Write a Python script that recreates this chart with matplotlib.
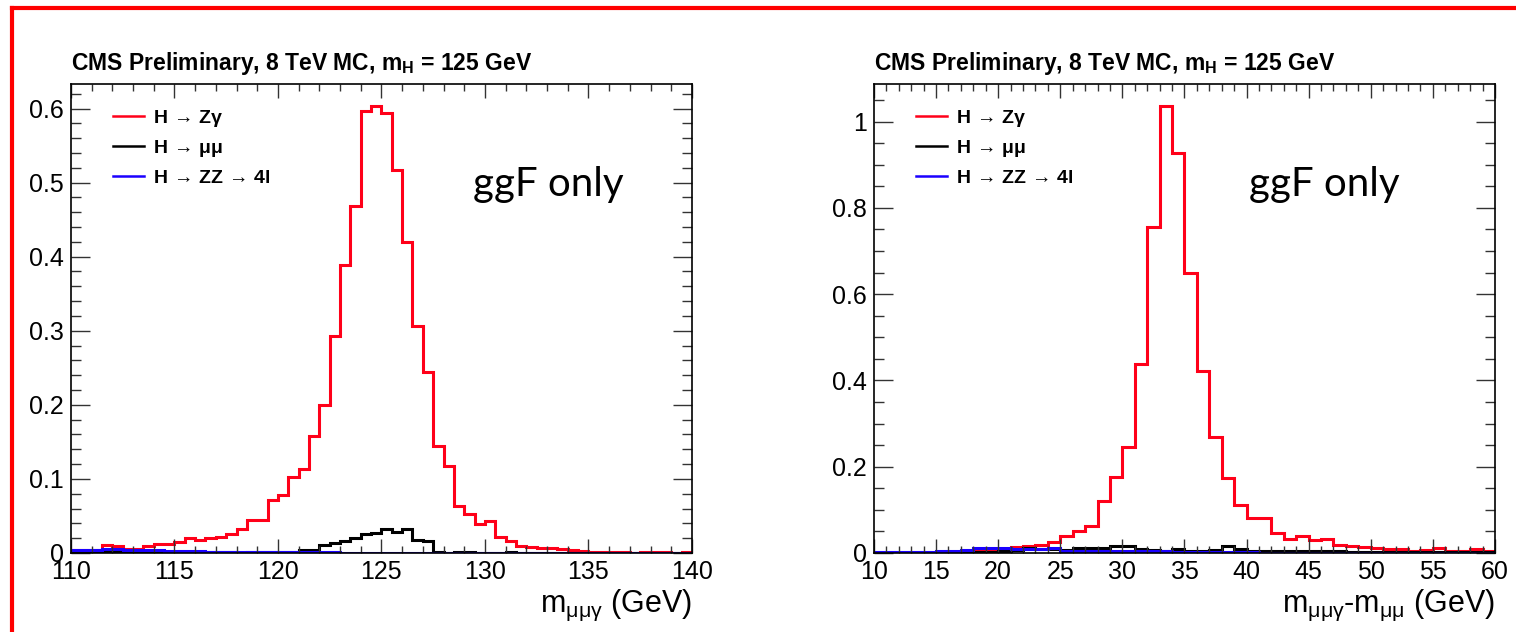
import numpy as np
import matplotlib.pyplot as plt
from matplotlib.lines import Line2D
from matplotlib.ticker import FixedLocator, MultipleLocator

plt.rcParams['font.family'] = ['Liberation Sans', 'DejaVu Sans']
plt.rcParams['mathtext.fontset'] = 'custom'
plt.rcParams['mathtext.rm'] = 'Liberation Sans'
plt.rcParams['mathtext.it'] = 'Liberation Sans:italic'
plt.rcParams['mathtext.bf'] = 'Liberation Sans:bold'

# ---- datos: m(mumugamma), bins de 0.5 GeV entre 110 y 140
m3_edges = np.arange(110, 140.01, 0.5)
m3_zg = [0.004, 0.004, 0.004, 0.011, 0.010, 0.006, 0.006, 0.009, 0.012, 0.012,
         0.015, 0.020, 0.018, 0.020, 0.022, 0.026, 0.033, 0.044, 0.044, 0.072,
         0.078, 0.102, 0.113, 0.158, 0.200, 0.293, 0.389, 0.468, 0.597, 0.603,
         0.594, 0.517, 0.420, 0.306, 0.244, 0.144, 0.117, 0.063, 0.053, 0.039,
         0.043, 0.022, 0.016, 0.010, 0.008, 0.007, 0.007, 0.006, 0.0045, 0.003,
         0.002, 0.002, 0.001, 0.001, 0.0, 0.001, 0.001, 0.001, 0.0005, 0.001]
m3_mm = [0.001, 0.001, 0.0005, 0.001, 0.001, 0.0005, 0.001, 0.001, 0.0005, 0.001,
         0.001, 0.001, 0.0005, 0.001, 0.001, 0.001, 0.0005, 0.001, 0.001, 0.002,
         0.001, 0.002, 0.0045, 0.0045, 0.011, 0.013, 0.016, 0.020, 0.026, 0.027,
         0.032, 0.028, 0.033, 0.018, 0.016, 0.002, 0.0, 0.001, 0.001, 0.0,
         0.0, 0.0, 0.001, 0.0, 0.0, 0.0, 0.0, 0.0, 0.0, 0.0,
         0.0, 0.0, 0.0, 0.0, 0.0, 0.0, 0.0, 0.0, 0.0, 0.0]
m3_4l = [0.004, 0.004, 0.004, 0.006, 0.006, 0.004, 0.004, 0.0035, 0.0035, 0.003,
         0.003, 0.0025, 0.0025, 0.002, 0.002, 0.002, 0.0015, 0.0015, 0.0015, 0.001,
         0.001, 0.001, 0.001, 0.001, 0.001, 0.0008, 0.0005, 0.0005, 0.0005, 0.0005,
         0.0005, 0.0005, 0.0005, 0.0005, 0.0005, 0.0005, 0.0005, 0.0005, 0.0005, 0.0005,
         0.0005, 0.0005, 0.0005, 0.0005, 0.0005, 0.0005, 0.0005, 0.0005, 0.0005, 0.0005,
         0.0005, 0.0005, 0.0005, 0.0005, 0.0005, 0.0005, 0.0005, 0.0005, 0.0005, 0.0005]

# ---- datos: m(mumugamma)-m(mumu), bins de 1 GeV entre 10 y 60
dm_edges = np.arange(10, 61, 1)
dm_zg = [0.0, 0.0, 0.0, 0.0, 0.0005, 0.001, 0.001, 0.002, 0.005, 0.005,
         0.005, 0.013, 0.016, 0.019, 0.026, 0.039, 0.052, 0.062, 0.120, 0.177,
         0.245, 0.438, 0.756, 1.035, 0.927, 0.650, 0.422, 0.270, 0.173, 0.111,
         0.082, 0.082, 0.046, 0.033, 0.039, 0.029, 0.033, 0.019, 0.017, 0.013,
         0.011, 0.009, 0.009, 0.004, 0.007, 0.011, 0.004, 0.005, 0.009, 0.004]
dm_mm = [0.001, 0.001, 0.001, 0.001, 0.001, 0.001, 0.001, 0.001, 0.003, 0.003,
         0.004, 0.008, 0.011, 0.009, 0.009, 0.007, 0.011, 0.012, 0.012, 0.016,
         0.016, 0.009, 0.008, 0.005, 0.009, 0.005, 0.004, 0.007, 0.016, 0.009,
         0.005, 0.005, 0.004, 0.004, 0.005, 0.004, 0.004, 0.004, 0.002, 0.002,
         0.003, 0.003, 0.002, 0.002, 0.002, 0.002, 0.002, 0.002, 0.002, 0.002]
dm_4l = [0.002, 0.002, 0.002, 0.002, 0.002, 0.005, 0.005, 0.008, 0.012, 0.012,
         0.012, 0.009, 0.009, 0.009, 0.011, 0.005, 0.005, 0.005, 0.005, 0.004,
         0.004, 0.004, 0.004, 0.004, 0.002, 0.002, 0.002, 0.002, 0.002, 0.002,
         0.002, 0.001, 0.001, 0.001, 0.001, 0.001, 0.001, 0.001, 0.001, 0.001,
         0.001, 0.001, 0.001, 0.001, 0.001, 0.001, 0.001, 0.001, 0.001, 0.001]

# ticks y etiquetas
m3_xticks = [110, 115, 120, 125, 130, 135, 140]
m3_yticks = [0, 0.1, 0.2, 0.3, 0.4, 0.5, 0.6]
m3_ylabels = ['0', '0.1', '0.2', '0.3', '0.4', '0.5', '0.6']
dm_xticks = [10, 15, 20, 25, 30, 35, 40, 45, 50, 55, 60]
dm_yticks = [0, 0.2, 0.4, 0.6, 0.8, 1.0]
dm_ylabels = ['0', '0.2', '0.4', '0.6', '0.8', '1']

nombres = [r'H$\,\rightarrow\,$Zγ', r'H$\,\rightarrow\,$μμ',
           r'H$\,\rightarrow\,$ZZ$\,\rightarrow\,$4l']
colores = ['#ff0019', 'black', '#1a00ff']
titulo = r'CMS Preliminary, 8 TeV MC, m$_{\bf H}$ = 125 GeV'


def panel(ax, edges, series, xlim, ylim, xticks, yticks, ylabels, ymin_step, xlabel, ggf_x):
    for vals, col, nom in zip(series, colores, nombres):
        ax.stairs(vals, edges, baseline=None, color=col, lw=2.2, label=nom)
    ax.set_xlim(xlim)
    ax.set_ylim(ylim)
    ax.xaxis.set_major_locator(FixedLocator(xticks))
    ax.xaxis.set_minor_locator(MultipleLocator(1))
    ax.yaxis.set_major_locator(FixedLocator(yticks))
    ax.set_yticklabels(ylabels)
    ax.yaxis.set_minor_locator(MultipleLocator(ymin_step))
    ax.tick_params(which='both', direction='in', top=True, right=True,
                   labelsize=18, width=1, color='#333333')
    ax.tick_params(axis='x', which='major', length=10, pad=5)
    ax.tick_params(axis='x', which='minor', length=5)
    ax.tick_params(axis='y', which='major', length=14, pad=5)
    ax.tick_params(axis='y', which='minor', length=7)
    for s in ax.spines.values():
        s.set_linewidth(1.2)
    ax.set_xlabel(xlabel, fontsize=22, loc='right')
    ax.xaxis.set_label_coords(1.0, -0.125)
    ax.xaxis.label.set_va('baseline')
    ax.text(0.0, 1.03, titulo, transform=ax.transAxes, fontsize=16.5,
            fontweight='bold', va='baseline', ha='left')
    ax.text(ggf_x, 0.762, 'ggF only', transform=ax.transAxes, fontsize=29,
            family='Lato', va='baseline', ha='left')
    leg = ax.legend(loc='upper left', bbox_to_anchor=(0.068, 0.95), frameon=False,
                    borderpad=0, borderaxespad=0, handlelength=1.6,
                    handletextpad=0.45, labelspacing=0.5,
                    prop={'size': 14, 'weight': 'bold'})
    for ln in leg.get_lines():
        ln.set_linewidth(1.8)


fig = plt.figure(figsize=(15.16, 6.32), dpi=100)
ax1 = fig.add_axes([0.0468, 0.125, 0.4096, 0.742])
ax2 = fig.add_axes([0.5765, 0.125, 0.4096, 0.742])

panel(ax1, m3_edges, [m3_zg, m3_mm, m3_4l], (110, 140), (0, 0.633),
      m3_xticks, m3_yticks, m3_ylabels, 0.02, r'm$_{\rm μμγ}$ (GeV)', 0.647)
panel(ax2, dm_edges, [dm_zg, dm_mm, dm_4l], (10, 60), (0, 1.087),
      dm_xticks, dm_yticks, dm_ylabels, 0.05, r'm$_{\rm μμγ}$-m$_{\rm μμ}$ (GeV)', 0.604)

# marco rojo (solo borde izquierdo y superior visibles)
fig.add_artist(Line2D([12 / 1516, 12 / 1516], [0, 1 - 8 / 632], color='red', lw=3))
fig.add_artist(Line2D([12 / 1516, 1], [1 - 8 / 632, 1 - 8 / 632], color='red', lw=3))

fig.savefig('out.png', dpi=100)
